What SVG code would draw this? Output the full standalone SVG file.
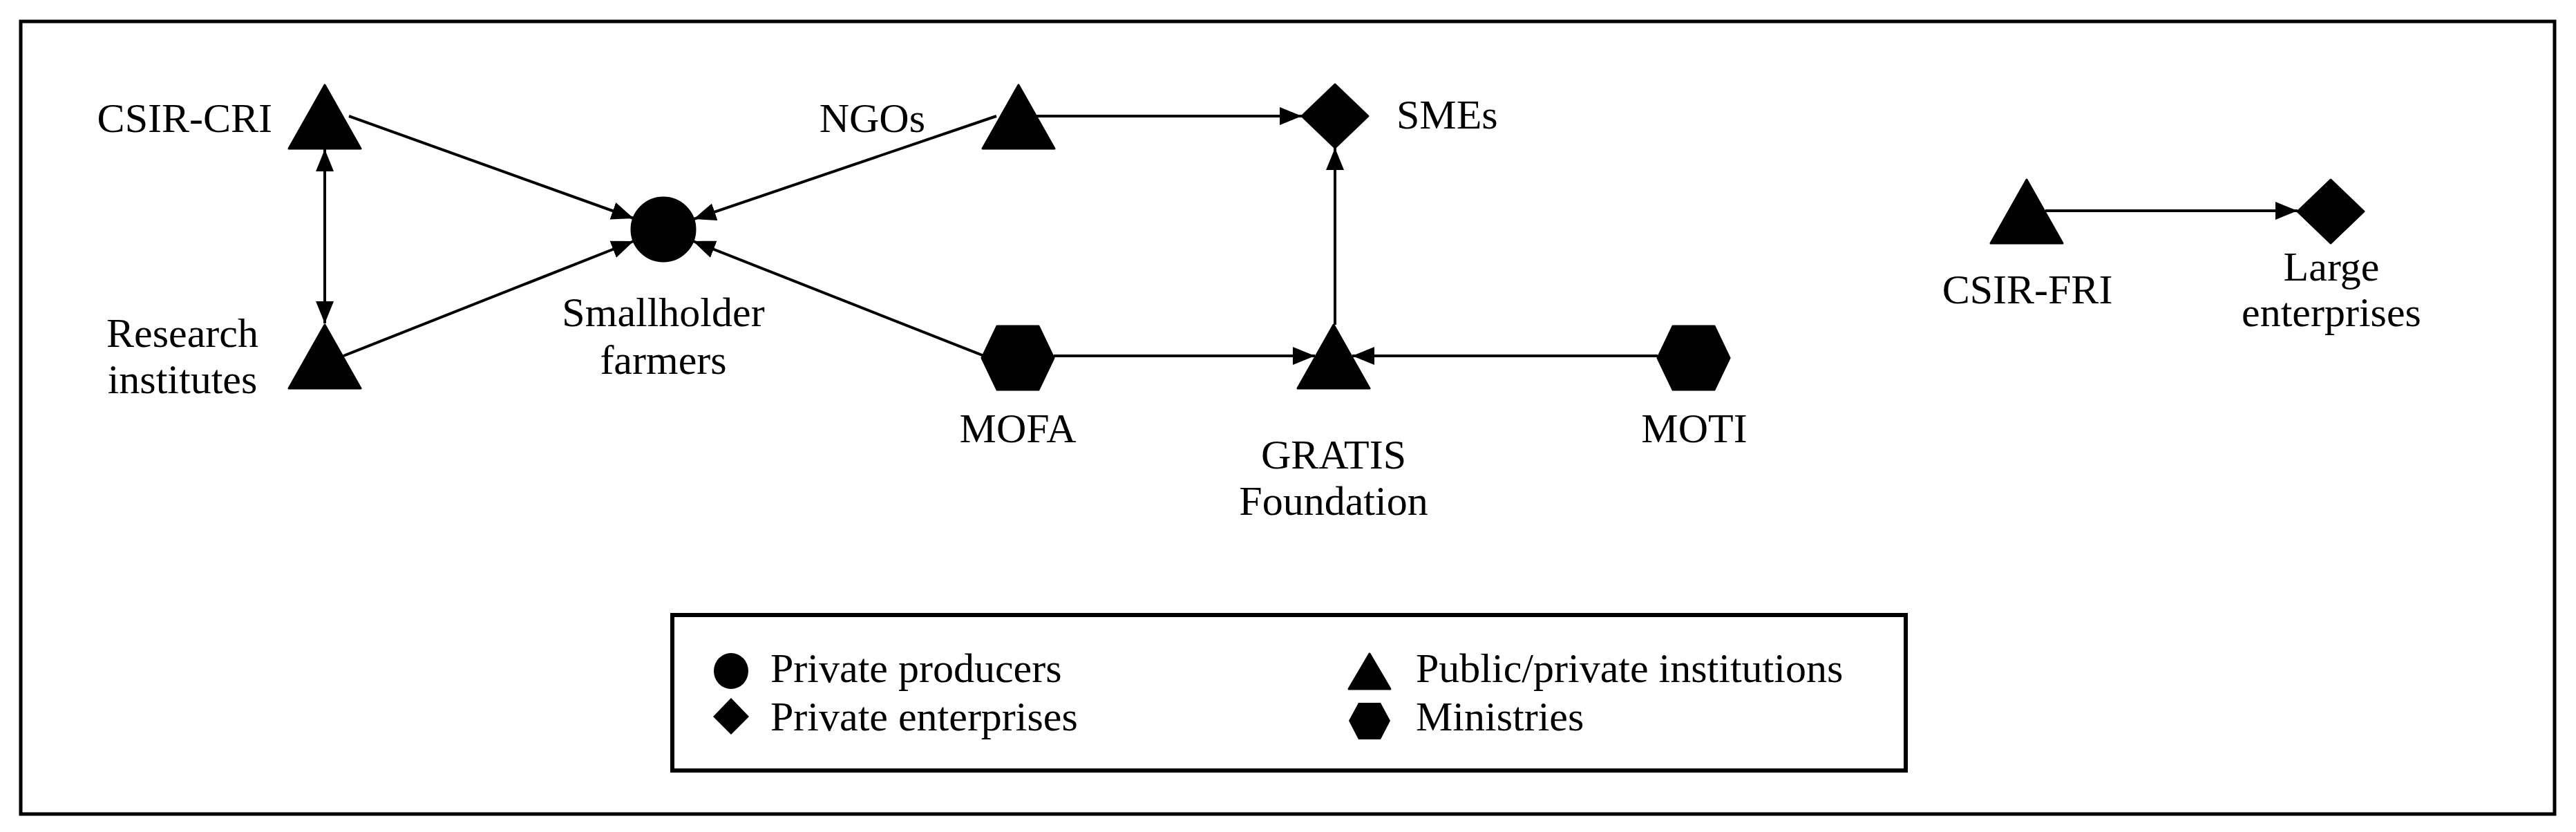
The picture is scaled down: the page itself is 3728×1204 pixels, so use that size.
<svg xmlns="http://www.w3.org/2000/svg" xmlns:xlink="http://www.w3.org/1999/xlink" width="3728" height="1204" viewBox="0 0 3728 1204">
<style>
text{font-family:"Liberation Serif",serif;font-size:60px;fill:#000}
.c{text-anchor:middle}
.e{stroke:#000;stroke-width:4;fill:none;marker-end:url(#a)}
.s{fill:#000;stroke:#000;stroke-width:3;stroke-linejoin:round}
</style>
<defs>
<marker id="a" markerUnits="userSpaceOnUse" markerWidth="34" markerHeight="30" refX="32" refY="15" orient="auto"><path d="M0,2 L32,15 L0,28 Z" fill="#000"/></marker>
<marker id="b" markerUnits="userSpaceOnUse" markerWidth="34" markerHeight="30" refX="2" refY="15" orient="auto"><path d="M34,2 L2,15 L34,28 Z" fill="#000"/></marker>
<path id="tri" d="M0,-46 L52,46 L-52,46 Z"/>
<path id="dia" d="M0,-46 L48,0 L0,46 L-48,0 Z"/>
<path id="hex" d="M-30,-46 L30,-46 L52,0 L30,46 L-30,46 L-52,0 Z"/>
</defs>
<rect x="30" y="31" width="3667" height="1147" fill="#fff" stroke="#000" stroke-width="5"/>
<g id="connectors">
<line class="e" x1="505" y1="168" x2="917" y2="316"/>
<line class="e" x1="1442" y1="168" x2="1004" y2="317"/>
<line class="e" x1="497" y1="515" x2="917" y2="349"/>
<line class="e" x1="1424" y1="515" x2="1003" y2="349"/>
<line class="e" x1="470" y1="216" x2="470" y2="468" marker-start="url(#b)"/>
<line class="e" x1="1500" y1="168" x2="1884" y2="168"/>
<line class="e" x1="1525" y1="515" x2="1903" y2="515"/>
<line class="e" x1="2399" y1="515" x2="1957" y2="515"/>
<line class="e" x1="1932" y1="470" x2="1932" y2="214"/>
<line class="e" x1="2960" y1="305" x2="3325" y2="305"/>
</g>
<g id="csir-cri"><use href="#tri" class="s" x="470" y="169"/><text x="394" y="191" text-anchor="end">CSIR-CRI</text></g>
<g id="research"><use href="#tri" class="s" x="470" y="516"/><text class="c" x="264" y="502">Research</text><text class="c" x="264" y="569">institutes</text></g>
<g id="smallholder"><circle cx="960" cy="332" r="46" class="s"/><text class="c" x="960" y="472">Smallholder</text><text class="c" x="960" y="541">farmers</text></g>
<g id="ngos"><use href="#tri" class="s" x="1474" y="169"/><text x="1339" y="191" text-anchor="end">NGOs</text></g>
<g id="mofa"><use href="#hex" class="s" x="1473" y="518"/><text class="c" x="1473" y="640">MOFA</text></g>
<g id="gratis"><use href="#tri" class="s" x="1930" y="516"/><text class="c" x="1930" y="678">GRATIS</text><text class="c" x="1930" y="745">Foundation</text></g>
<g id="smes"><use href="#dia" class="s" x="1932" y="168"/><text x="2021" y="186">SMEs</text></g>
<g id="moti"><use href="#hex" class="s" x="2451" y="518"/><text class="c" x="2452" y="640">MOTI</text></g>
<g id="csir-fri"><use href="#tri" class="s" x="2933" y="306"/><text class="c" x="2934" y="439">CSIR-FRI</text></g>
<g id="large"><use href="#dia" class="s" x="3373" y="306"/><text class="c" x="3374" y="406">Large</text><text class="c" x="3374" y="472">enterprises</text></g>
<g id="legend">
<rect x="973" y="890" width="1785" height="225" fill="#fff" stroke="#000" stroke-width="6"/>
<ellipse cx="1058" cy="971" rx="25" ry="26" fill="#000"/>
<text x="1115" y="987">Private producers</text>
<path d="M1058,1010 L1084,1037 L1058,1063 L1032,1037 Z" fill="#000"/>
<text x="1115" y="1057">Private enterprises</text>
<path d="M1982,946 L2012,997 L1952,997 Z" class="s"/>
<text x="2049" y="987">Public/private institutions</text>
<path d="M1966,1017 L1998,1017 L2012,1043 L1998,1070 L1966,1070 L1952,1043 Z" fill="#000"/>
<text x="2049" y="1057">Ministries</text>
</g>
</svg>
